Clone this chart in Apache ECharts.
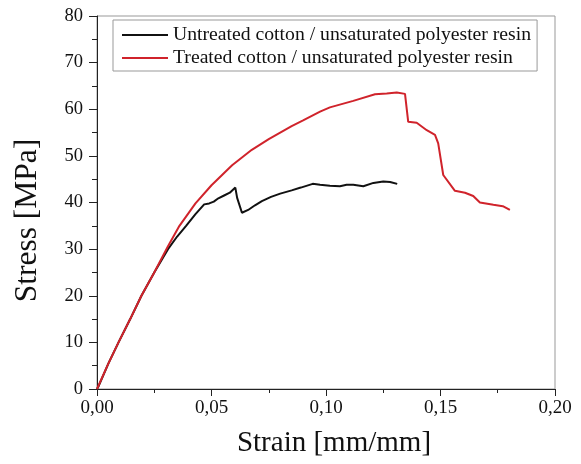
<!DOCTYPE html>
<html><head><meta charset="utf-8">
<script src="https://cdn.jsdelivr.net/npm/echarts@6/dist/echarts.min.js"></script>
<style>html,body{margin:0;padding:0;background:#fff}#c{width:581px;height:464px}</style>
</head><body><div id="c"></div>
<script>
const seriesNames = ['Untreated cotton / unsaturated polyester resin', 'Treated cotton / unsaturated polyester resin'];
const untreatedStrain = [0, 0.0007, 0.005, 0.0094, 0.0145, 0.0194, 0.025, 0.031, 0.035, 0.0389, 0.043, 0.0468, 0.049, 0.051, 0.053, 0.0555, 0.058, 0.0604, 0.0612, 0.0633, 0.066, 0.069, 0.072, 0.076, 0.080, 0.085, 0.089, 0.0942, 0.0974, 0.1017, 0.1061, 0.109, 0.1119, 0.1163, 0.1207, 0.125, 0.128, 0.1311];
const untreatedStress = [0, 0.6, 5.5, 10, 15, 20, 25, 30, 32.7, 35, 37.5, 39.6, 39.8, 40.2, 40.9, 41.5, 42.1, 43.2, 41, 37.8, 38.4, 39.4, 40.3, 41.2, 41.9, 42.6, 43.2, 44.0, 43.8, 43.6, 43.5, 43.8, 43.8, 43.5, 44.2, 44.5, 44.4, 44.0];
const treatedStrain = [0, 0.005, 0.0094, 0.0145, 0.0194, 0.025, 0.031, 0.036, 0.043, 0.05, 0.059, 0.0676, 0.075, 0.085, 0.09, 0.0974, 0.1017, 0.1119, 0.1214, 0.1265, 0.1309, 0.1345, 0.1359, 0.1396, 0.144, 0.1476, 0.149, 0.1512, 0.1563, 0.1607, 0.1643, 0.1672, 0.1731, 0.1772, 0.1803];
const treatedStress = [0, 5.5, 10, 15, 20, 25, 30.6, 35, 39.8, 43.7, 48, 51.3, 53.6, 56.4, 57.6, 59.5, 60.4, 61.8, 63.2, 63.4, 63.6, 63.3, 57.3, 57.1, 55.5, 54.5, 52.7, 45.9, 42.5, 42.1, 41.4, 40.0, 39.5, 39.2, 38.4];
const xTickLabels = ['0,00', '0,05', '0,10', '0,15', '0,20'];
const yTickLabels = ['0', '10', '20', '30', '40', '50', '60', '70', '80'];

const zip = (a, b) => a.map((v, i) => [v, b[i]]);
const FONT = 'Liberation Serif';
const chart = echarts.init(document.getElementById('c'), null, {renderer: 'canvas'});
chart.setOption({
  animation: false,
  backgroundColor: '#fff',
  grid: {left: 97, right: 26, top: 16, bottom: 75, show: true, borderColor: '#999', borderWidth: 1},
  legend: {
    orient: 'vertical', left: 113, top: 20,
    backgroundColor: '#fff', borderColor: '#999', borderWidth: 1,
    padding: [4, 6, 2, 9], itemGap: 1, itemWidth: 46, itemHeight: 2, icon: 'rect',
    textStyle: {fontFamily: FONT, fontSize: 19.7, lineHeight: 22, color: '#111'},
    data: seriesNames
  },
  xAxis: {
    type: 'value', min: 0, max: 0.2, interval: 0.05,
    name: 'Strain [mm/mm]', nameLocation: 'middle', nameGap: 40,
    nameTextStyle: {fontFamily: FONT, fontSize: 29, color: '#111', padding: [0, 0, 0, 16]},
    axisLine: {show: true, onZero: false, lineStyle: {color: '#222', width: 1}},
    axisTick: {show: true, length: 7, lineStyle: {color: '#222'}},
    minorTick: {show: true, splitNumber: 2, length: 4, lineStyle: {color: '#222'}},
    splitLine: {show: false},
    axisLabel: {fontFamily: FONT, fontSize: 19, color: '#111', margin: 10,
      formatter: (v) => xTickLabels[Math.round(v / 0.05)]}
  },
  yAxis: {
    type: 'value', min: 0, max: 80, interval: 10,
    name: 'Stress [MPa]', nameLocation: 'middle', nameGap: 53,
    nameTextStyle: {fontFamily: FONT, fontSize: 31.5, color: '#111', padding: [0, 36, 0, 0]},
    axisLine: {show: true, onZero: false, lineStyle: {color: '#222', width: 1}},
    axisTick: {show: true, length: 8, lineStyle: {color: '#222'}},
    minorTick: {show: true, splitNumber: 2, length: 5, lineStyle: {color: '#222'}},
    splitLine: {show: false},
    axisLabel: {fontFamily: FONT, fontSize: 18.5, color: '#111', margin: 14,
      formatter: (v) => yTickLabels[Math.round(v / 10)]}
  },
  series: [
    {name: seriesNames[0], type: 'line', symbol: 'none', data: zip(untreatedStrain, untreatedStress),
     lineStyle: {color: '#111', width: 2}, itemStyle: {color: '#111'}},
    {name: seriesNames[1], type: 'line', symbol: 'none', data: zip(treatedStrain, treatedStress),
     lineStyle: {color: '#d0232b', width: 2}, itemStyle: {color: '#d0232b'}}
  ]
});
</script></body></html>
